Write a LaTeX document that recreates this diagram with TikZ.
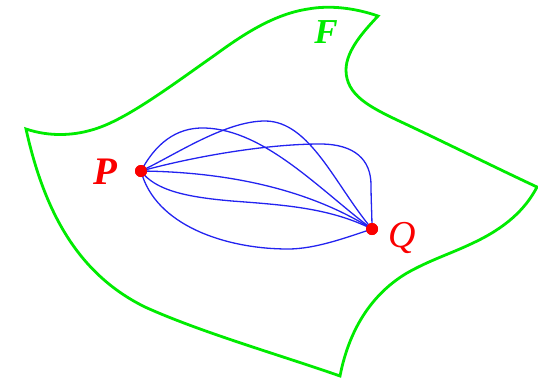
\documentclass[tikz,border=0pt]{standalone}
\usepackage{fontspec}
\setmainfont{Liberation Serif}
\definecolor{sgreen}{RGB}{0,235,0}
\definecolor{sblue}{RGB}{35,35,240}
\definecolor{sred}{RGB}{250,0,0}
\tikzset{
 surf/.style={draw=sgreen,line width=2.8pt,line cap=round,line join=miter},
 pathc/.style={draw=sblue,line width=1.3pt,line cap=round},
 dot/.style={circle,fill=sred,draw=none,inner sep=0pt,minimum size=12pt},
 plab/.style={text=sred,font=\fontsize{39}{39}\selectfont\bfseries\itshape,inner sep=0pt},
 qlab/.style={text=sred,font=\fontsize{38}{38}\selectfont\itshape,inner sep=0pt},
 flab/.style={text=sgreen,font=\fontsize{35}{35}\selectfont\bfseries\itshape,inner sep=0pt}
}
\begin{document}
\begin{tikzpicture}[x=1pt,y=-1pt]
\useasboundingbox (0,0) rectangle (538,378);
\coordinate (A) at (26,129);
\coordinate (B) at (378,16);
\coordinate (C) at (537,187);
\coordinate (D) at (340,376);
\draw[surf] (A) .. controls (50,137) and (75,136) .. (98,128)
  .. controls (130,117) and (175,83) .. (215,55)
  .. controls (245,33) and (275,14) .. (308,9)
  .. controls (330,5) and (355,8) .. (B)
  .. controls (365,30) and (346,50) .. (346,70)
  .. controls (346,95) and (370,107) .. (397,120)
  .. controls (440,140) and (490,165) .. (C)
  .. controls (525,210) and (505,228) .. (473,243)
  .. controls (450,254) and (430,260) .. (407,273)
  .. controls (375,292) and (350,325) .. (D)
  .. controls (280,355) and (200,332) .. (145,307)
  .. controls (80,275) and (45,215) .. (A) -- cycle;
\node[dot] (P) at (141,171) {};
\node[dot] (Q) at (372,229) {};
\draw[pathc] (P.center) .. controls (155,145) and (175,127) .. (205,128) .. controls (265,130) and (320,190) .. (Q.center);
\draw[pathc] (P.center) .. controls (175,155) and (225,121) .. (265,121) .. controls (310,121) and (335,185) .. (Q.center);
\draw[pathc] (P.center) .. controls (200,155) and (270,144) .. (320,144) .. controls (355,144) and (371,160) .. (371,185) .. controls (371,200) and (372,215) .. (Q.center);
\draw[pathc] (P.center) .. controls (230,172) and (310,190) .. (Q.center);
\draw[pathc] (P.center) .. controls (155,190) and (185,197) .. (232,201) .. controls (285,205) and (330,208) .. (Q.center);
\draw[pathc] (P.center) .. controls (155,225) and (225,249) .. (288,249) .. controls (315,249) and (345,238) .. (Q.center);
\node[dot] at (P) {};
\node[dot] at (Q) {};
\node[plab] (lp) at (105.5,172) {P};
\node[qlab] (lq) at (402,238) {Q};
\node[flab] (lf) at (326,32) {F};
\end{tikzpicture}
\end{document}
